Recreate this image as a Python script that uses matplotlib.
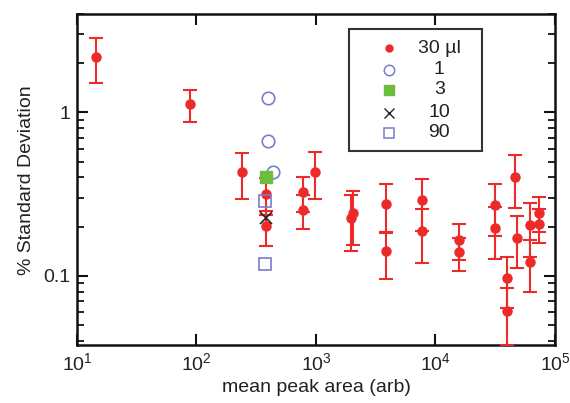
import matplotlib
matplotlib.use("Agg")
import matplotlib.pyplot as plt
from matplotlib.ticker import LogLocator, NullFormatter, FixedLocator, FixedFormatter
from matplotlib.patches import Rectangle

plt.rcParams['font.family'] = ['Liberation Sans', 'DejaVu Sans']
plt.rcParams['mathtext.fontset'] = 'custom'
plt.rcParams['mathtext.rm'] = 'Liberation Sans'
plt.rcParams['mathtext.it'] = 'Liberation Sans'

# 30 ul data (value, symmetric linear error)
x30 = [14.4, 88.3, 239, 379, 379, 783, 783, 975, 1963, 2028, 3890, 3890,
       7765, 7765, 15630, 15630, 31260, 31260, 39630, 39630, 46540, 47850,
       62100, 62100, 73400, 73400]
y30 = [2.19, 1.12, 0.43, 0.317, 0.201, 0.325, 0.253, 0.432, 0.227, 0.2415,
       0.275, 0.141, 0.29, 0.1875, 0.166, 0.1396, 0.2715, 0.1956, 0.0972,
       0.0608, 0.4043, 0.1714, 0.205, 0.1223, 0.2437, 0.208]
e30 = [0.68, 0.25, 0.136, 0.08, 0.049, 0.079, 0.059, 0.137, 0.085, 0.087,
       0.091, 0.045, 0.102, 0.068, 0.041, 0.032, 0.095, 0.069, 0.034, 0.023,
       0.143, 0.06, 0.075, 0.043, 0.058, 0.05]

x1 = [394, 394, 434]
y1 = [1.22, 0.668, 0.43]
x3 = [379]
y3 = [0.401]
x10 = [379]
y10 = [0.225]
x90 = [374, 374]
y90 = [0.288, 0.119]

legend_labels = ["30 \u00b5l", "1", "3", "10", "90"]
ytick_vals = [0.1, 1]
ytick_labels = ["0.1", "1"]

RED = '#ec2a2a'
BLUE = '#7c7cc8'
GREEN = '#6cbd3c'
TXT = '#222222'

fig = plt.figure(figsize=(5.70, 4.03), dpi=100)
ax = fig.add_axes([0.135, 0.1427, 0.8387, 0.8226])

ax.errorbar(x30, y30, yerr=e30, fmt='o', color=RED, ms=6.5, lw=1.5,
            capsize=5, capthick=1.5, zorder=3)
ax.plot(x1, y1, 'o', mfc='none', mec=BLUE, ms=9, mew=1.2, zorder=4)
ax.plot(x3, y3, 's', color=GREEN, ms=8, zorder=5)
ax.plot(x10, y10, 'x', color='#222222', ms=8, mew=1.2, zorder=5)
ax.plot(x90, y90, 's', mfc='none', mec=BLUE, ms=8.5, mew=1.2, zorder=4)

ax.set_xscale('log')
ax.set_yscale('log')
ax.set_xlim(10, 1e5)
ax.set_ylim(0.0375, 4.0)

ax.yaxis.set_major_locator(FixedLocator(ytick_vals))
ax.yaxis.set_major_formatter(FixedFormatter(ytick_labels))
ax.yaxis.set_minor_locator(LogLocator(base=10, subs=range(2, 10), numticks=20))
ax.yaxis.set_minor_formatter(NullFormatter())
ax.xaxis.set_major_locator(LogLocator(base=10, numticks=10))
ax.xaxis.set_minor_locator(FixedLocator([]))

ax.tick_params(which='both', direction='in', top=True, right=True,
               colors='#111111', labelcolor=TXT)
ax.tick_params(which='major', length=8, width=1.5, labelsize=14, pad=5)
ax.tick_params(which='minor', length=5, width=1.3)
for s in ax.spines.values():
    s.set_linewidth(1.8)
    s.set_color('#111111')

ax.set_xlabel('mean peak area (arb)', fontsize=14, color=TXT, labelpad=3)
ax.set_ylabel('% Standard Deviation', fontsize=14, color=TXT, labelpad=6)

# custom legend (centered labels)
ax.add_patch(Rectangle((0.569, 0.5876), 0.2777, 0.3662, transform=ax.transAxes,
                       fill=False, lw=1.5, ec='#333333', zorder=6))
mx, tx = 0.6534, 0.758
rows = [0.8965, 0.8311, 0.7707, 0.7023, 0.6419]
styles = [dict(marker='o', color=RED, ms=5),
          dict(marker='o', mfc='none', mec=BLUE, ms=7.5, mew=1.1),
          dict(marker='s', color=GREEN, ms=7),
          dict(marker='x', color='#222222', ms=7, mew=1.0),
          dict(marker='s', mfc='none', mec=BLUE, ms=7, mew=1.1)]
for ry, st, lab in zip(rows, styles, legend_labels):
    ax.plot([mx], [ry], ls='none', transform=ax.transAxes, clip_on=False,
            zorder=7, **st)
    ax.text(tx, ry, lab, transform=ax.transAxes, ha='center', va='center',
            fontsize=14, color=TXT, zorder=7)

fig.savefig('out.png', dpi=100)
